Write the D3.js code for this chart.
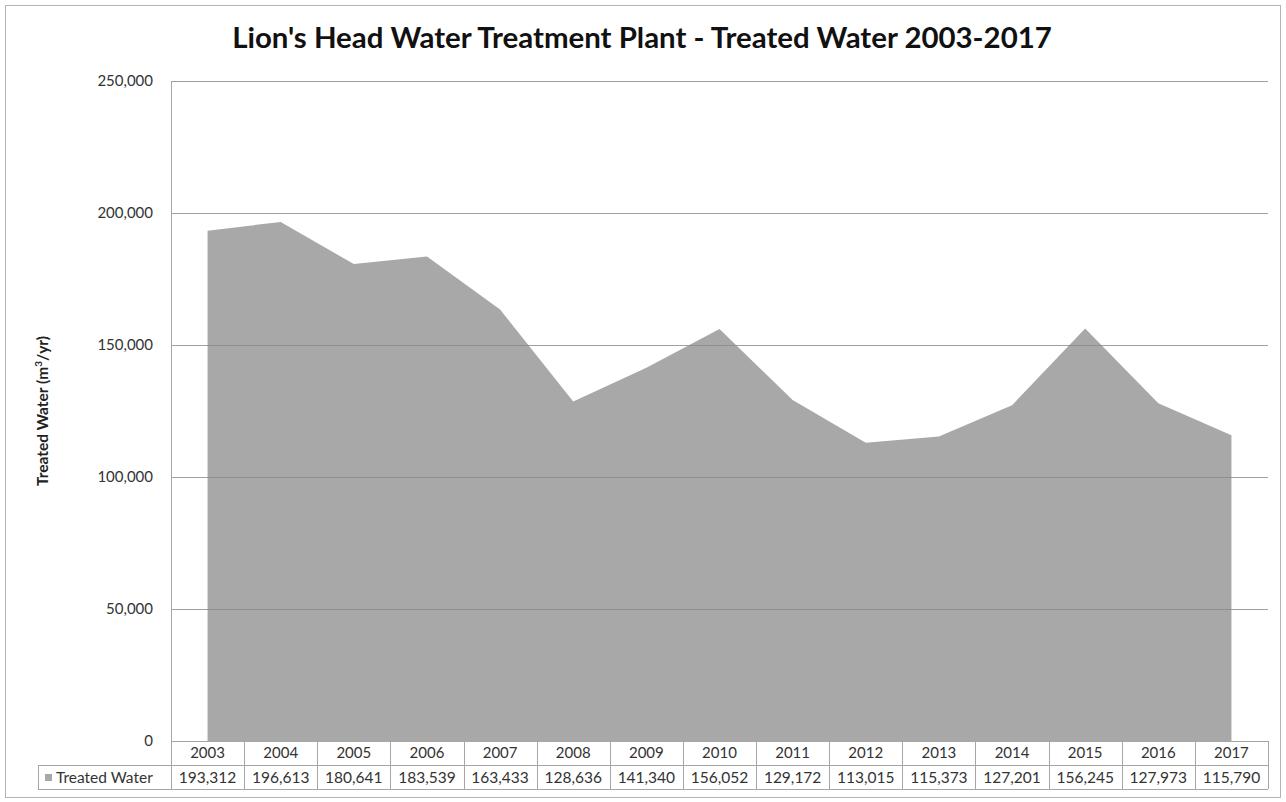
<!DOCTYPE html>
<html>
<head>
<meta charset="utf-8">
<script src="https://cdn.jsdelivr.net/npm/d3@7"></script>
<style>
  body { margin: 0; background: #fff; }
  svg { display: block; }
</style>
</head>
<body>
<svg width="1286" height="802"></svg>
<script>
var years = ['2003', '2004', '2005', '2006', '2007', '2008', '2009', '2010', '2011', '2012', '2013', '2014', '2015', '2016', '2017'];
var treatedWater = [193312, 196613, 180641, 183539, 163433, 128636, 141340, 156052, 129172, 113015, 115373, 127201, 156245, 127973, 115790];
var yTicks = [0, 50000, 100000, 150000, 200000, 250000];
var seriesName = 'Treated Water';
var chartTitle = "Lion's Head Water Treatment Plant - Treated Water 2003-2017";

var width = 1286;
var height = 802;
var plotLeft = 171;
var plotRight = 1268;
var plotTop = 81;
var plotBottom = 741;
var rowHeight = 24;
var legendLeft = 38;
var lineColor = '#a6a6a6';
var fontFamily = 'Lato, "Open Sans", sans-serif';

var xScale = d3.scaleBand()
  .domain(years)
  .range([plotLeft, plotRight]);

var yScale = d3.scaleLinear()
  .domain([0, 250000])
  .range([plotBottom, plotTop]);

var fmt = d3.format(',');
var xCenter = function(d) { return xScale(d) + xScale.bandwidth() / 2; };

var svg = d3.select('svg');

// outer chart frame
svg.append('rect')
  .attr('x', 5.5).attr('y', 5.5)
  .attr('width', width - 11).attr('height', height - 10)
  .attr('fill', '#fff')
  .attr('stroke', '#b3b3b3');

// area
var area = d3.area()
  .x(function(d, i) { return xCenter(years[i]); })
  .y0(yScale(0))
  .y1(function(d) { return yScale(d); });

svg.append('path')
  .datum(treatedWater)
  .attr('d', area)
  .attr('fill', '#a8a8a8');

// gridlines on top (they show through the fill)
svg.append('g').selectAll('line').data(yTicks.filter(function(t) { return t > 0; })).enter()
  .append('line')
  .attr('x1', plotLeft).attr('x2', plotRight)
  .attr('y1', function(d) { return Math.round(yScale(d)) + 0.5; })
  .attr('y2', function(d) { return Math.round(yScale(d)) + 0.5; })
  .attr('stroke', '#888')
  .attr('stroke-opacity', 0.8);

// y tick labels
svg.append('g').selectAll('text').data(yTicks).enter()
  .append('text')
  .attr('x', 153)
  .attr('y', function(d) { return yScale(d) + 5; })
  .attr('text-anchor', 'end')
  .attr('font-family', fontFamily)
  .attr('font-size', '15px')
  .attr('fill', '#333')
  .text(function(d) { return fmt(d); });

// y axis title
svg.append('text')
  .attr('transform', 'translate(48,' + ((plotTop + plotBottom) / 2) + ') rotate(-90)')
  .attr('text-anchor', 'middle')
  .attr('font-family', fontFamily)
  .attr('font-size', '15.5px')
  .attr('font-weight', 'bold')
  .attr('fill', '#222')
  .text('Treated Water (m')
  .append('tspan').attr('baseline-shift', 'super').attr('font-size', '10px').text('3')
  .select(function() { return this.parentNode; })
  .append('tspan').text('/yr)');

// data table
var table = svg.append('g');
var row1 = plotBottom;
var row2 = plotBottom + rowHeight;
var row3 = plotBottom + rowHeight * 2;

var hLine = function(x1, x2, y) {
  table.append('line')
    .attr('x1', x1).attr('x2', x2)
    .attr('y1', y + 0.5).attr('y2', y + 0.5)
    .attr('stroke', lineColor);
};
var vLine = function(x, y1, y2) {
  table.append('line')
    .attr('x1', x + 0.5).attr('x2', x + 0.5)
    .attr('y1', y1).attr('y2', y2)
    .attr('stroke', lineColor);
};

// plot area left border continues into the table
vLine(plotLeft, plotTop, row3);
hLine(plotLeft, plotRight, row1);
hLine(legendLeft, plotRight, row2);
hLine(legendLeft, plotRight, row3);
vLine(legendLeft, row2, row3);
years.forEach(function(y) {
  vLine(Math.round(xScale(y) + xScale.bandwidth()), row1, row3);
});

table.selectAll('text.year').data(years).enter()
  .append('text')
  .attr('class', 'year')
  .attr('x', xCenter)
  .attr('y', row1 + 17)
  .attr('text-anchor', 'middle')
  .attr('font-family', fontFamily)
  .attr('font-size', '15px')
  .attr('fill', '#333')
  .text(function(d) { return d; });

table.selectAll('text.val').data(treatedWater).enter()
  .append('text')
  .attr('class', 'val')
  .attr('x', function(d, i) { return xCenter(years[i]); })
  .attr('y', row2 + 18)
  .attr('text-anchor', 'middle')
  .attr('font-family', fontFamily)
  .attr('font-size', '15.5px')
  .attr('fill', '#333')
  .text(function(d) { return fmt(d); });

// legend key + series name
table.append('rect')
  .attr('x', 45).attr('y', row2 + 9)
  .attr('width', 7).attr('height', 7)
  .attr('fill', '#a8a8a8');
table.append('text')
  .attr('x', 56)
  .attr('y', row2 + 18)
  .attr('font-family', fontFamily)
  .attr('font-size', '15.5px')
  .attr('fill', '#333')
  .text(seriesName);

// title
var title = svg.append('text')
  .attr('x', 642)
  .attr('y', 48)
  .attr('text-anchor', 'middle')
  .attr('font-family', fontFamily)
  .attr('font-size', '26px')
  .attr('font-weight', 'bold')
  .attr('fill', '#111')
  .text(chartTitle);
var tw = title.node().getComputedTextLength();
title.attr('font-size', (26 * 820 / tw) + 'px');
</script>
</body>
</html>
